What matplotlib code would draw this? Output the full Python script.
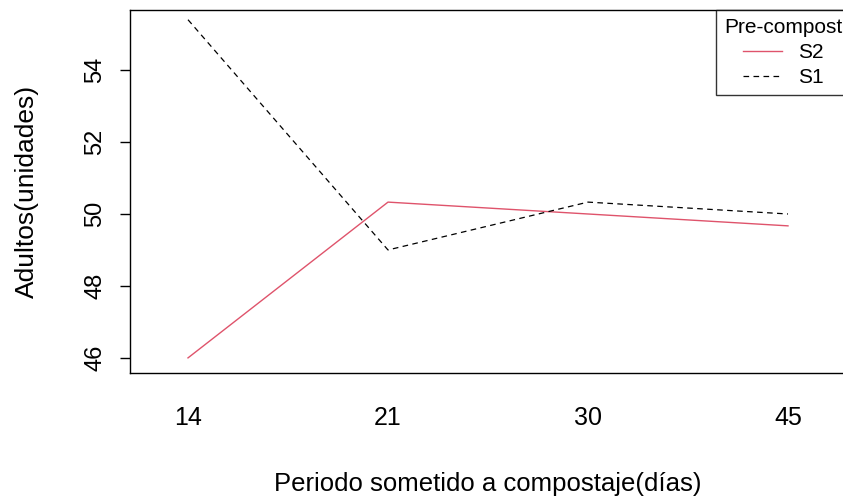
import matplotlib
matplotlib.use('Agg')
import matplotlib.pyplot as plt
import numpy as np

## interaction plot: adults by composting period and pre-compost
periodos = ['14', '21', '30', '45']
s2_vals = [46.0, 50.33, 50.0, 49.67]
s1_vals = [55.4, 49.0, 50.33, 50.0]

plt.rcParams['font.family'] = ['Liberation Sans', 'DejaVu Sans']

fig = plt.figure(figsize=(8.43, 4.98), dpi=100)
ax = fig.add_axes([130/843, 125/498, 716/843, 363/498])

x = np.arange(1, len(periodos) + 1)
ax.plot(x, s2_vals, color='#DF536B', lw=1.0, label='S2')
ax.plot(x, s1_vals, color='black', lw=0.9, ls=(0, (4.5, 3.5)), label='S1')

ax.set_xlim(0.71, 4.29)
ax.set_ylim(45.58, 55.67)
ax.set_xticks(x)
ax.set_xticklabels(periodos)
ax.tick_params(axis='x', length=0, pad=24, labelsize=18)
ax.set_yticks([46, 48, 50, 52, 54])
ax.tick_params(axis='y', length=7, width=1, labelsize=17, pad=10)
for lab in ax.get_yticklabels():
    lab.set_rotation(90)
    lab.set_va('center')

for sp in ax.spines.values():
    sp.set_linewidth(1.0)

ax.set_xlabel('Periodo sometido a compostaje(días)', fontsize=18.5, labelpad=30)
ax.set_ylabel('Adultos(unidades)', fontsize=19, labelpad=33)

leg = ax.legend(title='Pre-compost', loc='upper left', bbox_to_anchor=(716/843, 1 - 10/498),
                bbox_transform=fig.transFigure,
                frameon=True, fancybox=False, fontsize=15, title_fontsize=15,
                handlelength=1.85, borderpad=0.4, labelspacing=0.28, handletextpad=0.8,
                borderaxespad=0)
leg.get_frame().set_edgecolor('black')
leg.get_frame().set_linewidth(1.0)
leg._legend_box.align = 'center'

fig.savefig('out.png', dpi=100)
